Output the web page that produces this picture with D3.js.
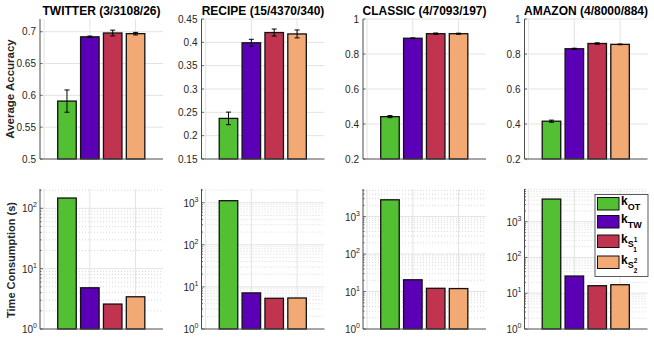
<!DOCTYPE html>
<html><head><meta charset="utf-8">
<script src="https://cdn.jsdelivr.net/npm/d3@7"></script>
<style>
body{margin:0;background:#fff;}
svg{display:block;font-family:"Liberation Sans",Arial,Helvetica,sans-serif;}
</style></head>
<body>
<svg id="c" width="654" height="340"></svg>
<script>
const datasets = ["TWITTER (3/3108/26)", "RECIPE (15/4370/340)", "CLASSIC (4/7093/197)", "AMAZON (4/8000/884)"];
const methods = ["OT", "TW", "S1", "S2"];
const colors = ["#53c034", "#5b00b6", "#c1344f", "#f2a974"];

const accOT = [0.591, 0.237, 0.442, 0.416];
const accTW = [0.692, 0.399, 0.890, 0.830];
const accS1 = [0.698, 0.421, 0.916, 0.860];
const accS2 = [0.697, 0.418, 0.916, 0.855];
const errOT = [0.0175, 0.0135, 0.006, 0.006];
const errTW = [0.0012, 0.0075, 0.002, 0.003];
const errS1 = [0.0045, 0.0075, 0.004, 0.004];
const errS2 = [0.002, 0.0085, 0.003, 0.002];

const timeOT = [148, 1115, 2805, 4280];
const timeTW = [4.82, 7.2, 20.6, 30.2];
const timeS1 = [2.59, 5.36, 12.2, 16.2];
const timeS2 = [3.42, 5.45, 12.0, 17.3];

const accDomains = [[0.5, 0.72], [0.15, 0.45], [0.2, 1], [0.2, 1]];
const accTicks = [[0.5, 0.55, 0.6, 0.65, 0.7], [0.15, 0.2, 0.25, 0.3, 0.35, 0.4, 0.45], [0.2, 0.4, 0.6, 0.8, 1], [0.2, 0.4, 0.6, 0.8, 1]];
const timeDomains = [[1, 209], [1, 2115], [1, 5450], [1, 8180]];
const xGridTicks = [0, 2, 4];

const acc = [accOT, accTW, accS1, accS2];
const err = [errOT, errTW, errS1, errS2];
const time = [timeOT, timeTW, timeS1, timeS2];

const svg = d3.select("#c");
const axisColor = "#4d4d4d";
const gridColor = "#e3e3e3";
const textColor = "#262626";

const panelLeft0 = 40, panelStep = 161.5, panelW = 123;
const topRow = [19, 159], botRow = [189, 329];

function drawPanel(i, row) {
  const L = panelLeft0 + panelStep * i;
  const x = d3.scaleLinear().domain([-0.18, 5.2]).range([L, L + panelW]);
  const [yTop, yBot] = row === 0 ? topRow : botRow;
  const isLog = row === 1;
  const y = isLog ? d3.scaleLog().domain(timeDomains[i]).range([yBot, yTop])
                  : d3.scaleLinear().domain(accDomains[i]).range([yBot, yTop]);
  const g = svg.append("g");

  // grid
  if (isLog) {
    const [lo, hi] = timeDomains[i];
    const minors = [];
    const majors = [];
    for (let e = 0; Math.pow(10, e) <= hi; e++) {
      majors.push(Math.pow(10, e));
      for (let m = 2; m <= 9; m++) { const v = m * Math.pow(10, e); if (v <= hi) minors.push(v); }
    }
    g.selectAll(".mg").data(minors).join("line")
      .attr("x1", L).attr("x2", L + panelW).attr("y1", d => y(d)).attr("y2", d => y(d))
      .attr("stroke", "#c8c8c8").attr("stroke-width", 0.7).attr("stroke-dasharray", "1,2");
    g.selectAll(".Mg").data(majors.filter(v => v > lo)).join("line")
      .attr("x1", L).attr("x2", L + panelW).attr("y1", d => y(d)).attr("y2", d => y(d))
      .attr("stroke", gridColor).attr("stroke-width", 1);
  } else {
    g.selectAll(".hg").data(accTicks[i].filter(v => v > accDomains[i][0])).join("line")
      .attr("x1", L).attr("x2", L + panelW).attr("y1", d => y(d)).attr("y2", d => y(d))
      .attr("stroke", gridColor).attr("stroke-width", 1);
  }
  g.selectAll(".vg").data(xGridTicks).join("line")
    .attr("x1", d => x(d)).attr("x2", d => x(d)).attr("y1", yTop).attr("y2", yBot)
    .attr("stroke", gridColor).attr("stroke-width", 1);

  // bars
  const vals = methods.map((m, k) => ({k, v: isLog ? time[k][i] : acc[k][i], e: isLog ? 0 : err[k][i]}));
  const bw = x(0.81) - x(0);
  g.selectAll(".bar").data(vals).join("rect")
    .attr("x", d => x(d.k + 1) - bw / 2).attr("width", bw)
    .attr("y", d => y(d.v)).attr("height", d => yBot - y(d.v))
    .attr("fill", d => colors[d.k]).attr("stroke", "#111").attr("stroke-width", 1.3);

  if (!isLog) {
    const eb = g.selectAll(".eb").data(vals).join("g").attr("stroke", "#000").attr("stroke-width", 1);
    eb.append("line").attr("x1", d => x(d.k + 1)).attr("x2", d => x(d.k + 1))
      .attr("y1", d => y(d.v - d.e)).attr("y2", d => y(d.v + d.e));
    eb.append("line").attr("x1", d => x(d.k + 1) - 2.5).attr("x2", d => x(d.k + 1) + 2.5)
      .attr("y1", d => y(d.v - d.e)).attr("y2", d => y(d.v - d.e));
    eb.append("line").attr("x1", d => x(d.k + 1) - 2.5).attr("x2", d => x(d.k + 1) + 2.5)
      .attr("y1", d => y(d.v + d.e)).attr("y2", d => y(d.v + d.e));
  }

  // axes lines
  g.append("line").attr("x1", L).attr("x2", L).attr("y1", yTop).attr("y2", yBot)
    .attr("stroke", axisColor).attr("stroke-width", 1);
  g.append("line").attr("x1", L).attr("x2", L + panelW).attr("y1", yBot).attr("y2", yBot)
    .attr("stroke", axisColor).attr("stroke-width", 1);

  // y ticks
  if (isLog) {
    const hi = timeDomains[i][1];
    const majors = [], minors = [];
    for (let e = 0; Math.pow(10, e) <= hi; e++) {
      majors.push(e);
      for (let m = 2; m <= 9; m++) { const v = m * Math.pow(10, e); if (v <= hi) minors.push(v); }
    }
    g.selectAll(".mt").data(minors).join("line")
      .attr("x1", L).attr("x2", L + 1.5).attr("y1", d => y(d)).attr("y2", d => y(d))
      .attr("stroke", axisColor).attr("stroke-width", 0.8);
    g.selectAll(".Mt").data(majors).join("line")
      .attr("x1", L).attr("x2", L + 3).attr("y1", d => y(Math.pow(10, d))).attr("y2", d => y(Math.pow(10, d)))
      .attr("stroke", axisColor).attr("stroke-width", 0.8);
    const lab = g.selectAll(".lab").data(majors).join("text")
      .attr("x", L - 3).attr("y", d => y(Math.pow(10, d)) + 4)
      .attr("text-anchor", "end").attr("fill", textColor).attr("font-size", 10);
    lab.append("tspan").text("10");
    lab.append("tspan").attr("dy", -5).attr("font-size", 7).text(d => d);
  } else {
    g.selectAll(".t").data(accTicks[i]).join("line")
      .attr("x1", L).attr("x2", L + 2.5).attr("y1", d => y(d)).attr("y2", d => y(d))
      .attr("stroke", axisColor).attr("stroke-width", 0.8);
    g.selectAll(".lab").data(accTicks[i]).join("text")
      .attr("x", L - 4).attr("y", d => y(d) + 3.5)
      .attr("text-anchor", "end").attr("fill", textColor).attr("font-size", 10)
      .text(d => String(+d.toFixed(2)));
  }

  if (row === 0) {
    g.append("text").attr("x", L + panelW / 2).attr("y", 14.5).attr("text-anchor", "middle")
      .attr("font-weight", "bold").attr("font-size", 12).attr("fill", "#000").text(datasets[i]);
  }
}

for (let i = 0; i < 4; i++) { drawPanel(i, 0); drawPanel(i, 1); }

svg.append("text").attr("transform", "translate(14,89) rotate(-90)").attr("text-anchor", "middle")
  .attr("font-weight", "bold").attr("font-size", 11.5).attr("fill", textColor).text("Average Accuracy");
svg.append("text").attr("transform", "translate(14.5,260) rotate(-90)").attr("text-anchor", "middle")
  .attr("font-weight", "bold").attr("font-size", 11).attr("fill", textColor).text("Time Consumption (s)");

// legend
const lg = svg.append("g");
lg.append("rect").attr("x", 595).attr("y", 194.5).attr("width", 53).attr("height", 82)
  .attr("fill", "#fff").attr("stroke", "#333").attr("stroke-width", 0.8);
const legY = [197.5, 215.5, 235, 256];
const items = lg.selectAll(".li").data(methods).join("g");
items.append("rect").attr("x", 597.5).attr("y", (d, k) => legY[k]).attr("width", 21.5).attr("height", 12.5)
  .attr("fill", (d, k) => colors[k]).attr("stroke", "#111").attr("stroke-width", 1);
const lt = items.append("text").attr("x", 621).attr("y", (d, k) => legY[k] + 7.5)
  .attr("font-weight", "bold").attr("font-size", 12).attr("fill", "#000");
lt.append("tspan").text("k");
lt.each(function(d) {
  const t = d3.select(this);
  if (d === "OT" || d === "TW") {
    t.append("tspan").attr("dy", 4.5).attr("font-size", 9).text(d);
  } else {
    const n = d === "S1" ? "1" : "2";
    t.append("tspan").attr("dy", 4.5).attr("font-size", 9).text("S");
    t.append("tspan").attr("dy", -5).attr("font-size", 6.5).text(n);
    t.append("tspan").attr("dx", -3.6).attr("dy", 9.5).attr("font-size", 6.5).text(n);
  }
});
</script>
</body></html>
